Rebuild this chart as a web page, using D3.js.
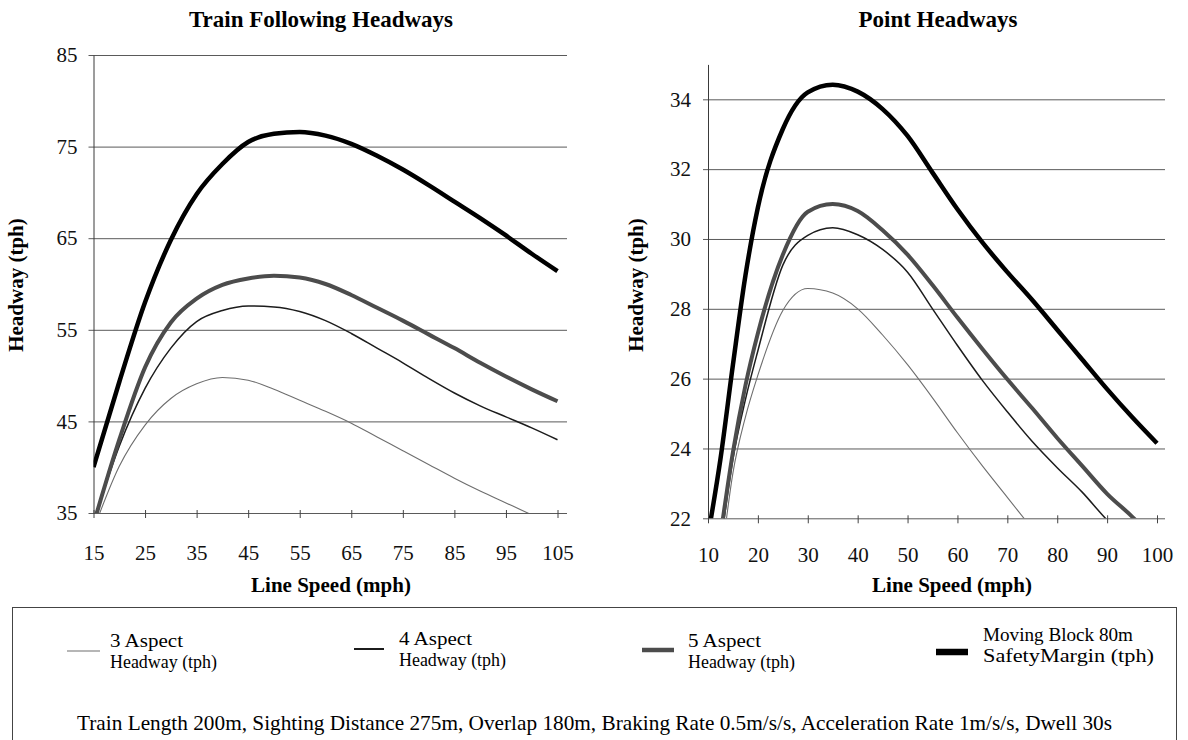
<!DOCTYPE html>
<html>
<head>
<meta charset="utf-8">
<script src="https://cdn.jsdelivr.net/npm/d3@7/dist/d3.min.js"></script>
<style>
body { margin: 0; background: #fff; }
svg, svg text { font-family: "Liberation Serif", "Times New Roman", serif; }
</style>
</head>
<body>
<script>
// --- Train Following Headways (left panel) ---
var tfSpeeds = [15, 20, 25, 30, 35, 40, 45, 50, 55, 60, 65, 70, 75, 80, 85, 90, 95, 100, 105];
var tf3Aspect = [33.2, 40.1, 44.6, 47.5, 49.1, 49.8, 49.5, 48.5, 47.3, 46.1, 44.8, 43.3, 41.8, 40.3, 38.8, 37.4, 36.1, 34.8, 33.5];
var tf4Aspect = [34.0, 42.3, 48.6, 53.0, 55.9, 57.1, 57.6, 57.5, 57.0, 56.0, 54.6, 53.0, 51.4, 49.7, 48.1, 46.7, 45.5, 44.3, 43.0];
var tf5Aspect = [33.8, 43.0, 50.9, 55.8, 58.4, 59.9, 60.6, 60.9, 60.7, 60.0, 58.8, 57.4, 56.0, 54.5, 53.0, 51.4, 49.9, 48.5, 47.2];
var tfMovingBlock = [40.0, 49.3, 58.0, 64.8, 69.8, 73.1, 75.5, 76.4, 76.6, 76.2, 75.3, 74.0, 72.5, 70.8, 69.0, 67.2, 65.3, 63.3, 61.4];
var tfTicksX = [15, 25, 35, 45, 55, 65, 75, 85, 95, 105];
var tfTicksY = [35, 45, 55, 65, 75, 85];

// --- Point Headways (right panel) ---
var phSpeeds = [10, 12.5, 15, 17.5, 20, 25, 30, 35, 40, 45, 50, 55, 60, 65, 70, 75, 80, 85, 90, 95, 100];
var ph3Aspect = [null, 20.6, 23.3, 24.9, 26.1, 27.95, 28.58, 28.45, 28.0, 27.25, 26.4, 25.45, 24.45, 23.5, 22.6, 21.7, null, null, null, null, null];
var ph4Aspect = [null, 21.2, 23.7, 25.4, 26.8, 29.25, 30.1, 30.32, 30.12, 29.7, 29.05, 28.0, 26.95, 25.95, 25.05, 24.2, 23.45, 22.75, 21.95, 21.3, null];
var ph5Aspect = [null, 21.5, 23.9, 25.8, 27.3, 29.55, 30.78, 31.0, 30.8, 30.25, 29.55, 28.68, 27.75, 26.85, 25.98, 25.15, 24.3, 23.5, 22.7, 22.05, 21.3];
var phMovingBlock = [21.5, 23.7, 26.4, 28.95, 30.9, 33.15, 34.2, 34.42, 34.22, 33.72, 32.95, 31.9, 30.85, 29.9, 29.05, 28.25, 27.4, 26.55, 25.7, 24.9, 24.15];
var phTicksX = [10, 20, 30, 40, 50, 60, 70, 80, 90, 100];
var phTicksY = [22, 24, 26, 28, 30, 32, 34];

var seriesLabels = [
	['3 Aspect', 'Headway (tph)'],
	['4 Aspect', 'Headway (tph)'],
	['5 Aspect', 'Headway (tph)'],
	['Moving Block 80m', 'SafetyMargin (tph)']
];
var footnote = 'Train Length 200m, Sighting Distance 275m, Overlap 180m, Braking Rate 0.5m/s/s, Acceleration Rate 1m/s/s, Dwell 30s';

// line look per series: 3, 4, 5 aspect, moving block
var lineStyles = [
	{ color: '#6e6e6e', width: 1.1 },
	{ color: '#1c1c1c', width: 1.5 },
	{ color: '#4c4c4c', width: 4 },
	{ color: '#000000', width: 4.5 }
];

var serif = '"Liberation Serif", "Times New Roman", serif';

var svg = d3.select('body').append('svg')
	.attr('width', 1188)
	.attr('height', 740);

function drawPanel(p) {
	var x = d3.scaleLinear().domain(p.xDomain).range(p.xRange);
	var y = d3.scaleLinear().domain(p.yDomain).range(p.yRange);
	var left = p.xRange[0], bottom = p.yRange[0], top = p.yRange[1];
	var g = svg.append('g');

	// horizontal gridlines (the lowest one doubles as x axis line)
	g.append('g')
		.attr('transform', 'translate(' + (left - 5) + ',0)')
		.call(d3.axisLeft(y).tickValues(p.yTicks).tickSize(-(p.plotRight - left + 5)).tickFormat(''))
		.call(function(s) { s.select('.domain').remove(); })
		.selectAll('line')
		.attr('stroke', '#5a5a5a')
		.attr('stroke-width', 1);

	// y axis with labels
	var ya = g.append('g')
		.attr('transform', 'translate(' + left + ',0)')
		.call(d3.axisLeft(y).tickValues(p.yTicks).tickSize(0).tickPadding(p.yLabelPad))
		.attr('font-family', null)
		.attr('font-size', null);
	ya.select('.domain').attr('stroke', '#3a3a3a');
	ya.selectAll('text')
		.style('font-family', serif)
		.style('font-size', '21px')
		.attr('fill', '#111');

	// x axis ticks + labels
	var xa = g.append('g')
		.attr('transform', 'translate(0,' + bottom + ')')
		.call(d3.axisBottom(x).tickValues(p.xTicks).tickSize(5).tickPadding(p.xLabelPad))
		.attr('font-family', null)
		.attr('font-size', null);
	xa.select('.domain').remove();
	xa.selectAll('line').attr('y1', -3).attr('stroke', '#444');
	xa.selectAll('text')
		.style('font-family', serif)
		.style('font-size', '21px')
		.attr('fill', '#111');

	// series
	var clipId = 'clip-' + p.id;
	svg.append('clipPath').attr('id', clipId)
		.append('rect')
		.attr('x', left)
		.attr('y', top)
		.attr('width', p.plotRight - left)
		.attr('height', bottom - top);

	var line = d3.line()
		.defined(function(d) { return d[1] != null; })
		.x(function(d) { return x(d[0]); })
		.y(function(d) { return y(d[1]); })
		.curve(d3.curveMonotoneX);

	p.series.forEach(function(vals, i) {
		var pts = p.speeds.map(function(s, k) { return [s, vals[k]]; });
		g.append('path')
			.datum(pts)
			.attr('clip-path', 'url(#' + clipId + ')')
			.attr('fill', 'none')
			.attr('stroke', lineStyles[i].color)
			.attr('stroke-width', lineStyles[i].width)
			.attr('stroke-linejoin', 'round')
			.attr('d', line);
	});

	// titles
	g.append('text')
		.attr('x', p.titleX).attr('y', 27)
		.attr('text-anchor', 'middle')
		.attr('font-weight', 'bold').attr('font-size', 23)
		.text(p.title);
	g.append('text')
		.attr('x', p.xTitleX).attr('y', 592)
		.attr('text-anchor', 'middle')
		.attr('font-weight', 'bold').attr('font-size', 21)
		.text('Line Speed (mph)');
	g.append('text')
		.attr('transform', 'translate(' + p.yTitleX + ',285) rotate(-90)')
		.attr('text-anchor', 'middle')
		.attr('font-weight', 'bold').attr('font-size', 21)
		.text('Headway (tph)');
}

drawPanel({
	id: 'tf',
	title: 'Train Following Headways',
	speeds: tfSpeeds,
	series: [tf3Aspect, tf4Aspect, tf5Aspect, tfMovingBlock],
	xDomain: [15, 105], xRange: [93.5, 557.5],
	yDomain: [35, 85], yRange: [513, 55],
	plotRight: 567,
	xTicks: tfTicksX, yTicks: tfTicksY,
	yLabelPad: 16, xLabelPad: 27,
	titleX: 321, xTitleX: 331, yTitleX: 23
});

drawPanel({
	id: 'ph',
	title: 'Point Headways',
	speeds: phSpeeds,
	series: [ph3Aspect, ph4Aspect, ph5Aspect, phMovingBlock],
	xDomain: [10, 100], xRange: [708, 1157],
	yDomain: [22, 35], yRange: [518.3, 64.4],
	plotRight: 1165,
	xTicks: phTicksX, yTicks: phTicksY,
	yLabelPad: 17, xLabelPad: 24,
	titleX: 938, xTitleX: 952, yTitleX: 643
});

// legend box
var legend = svg.append('g');
legend.append('rect')
	.attr('x', 12.5).attr('y', 607.5)
	.attr('width', 1164).attr('height', 150)
	.attr('fill', 'none')
	.attr('stroke', '#444')
	.attr('stroke-width', 1);

var legendPos = [
	{ sx: 67, sw: 33, sy: 651, tx: 110, ty: 647, w1: 73, w2: 107 },
	{ sx: 354, sw: 30, sy: 649, tx: 399, ty: 645, w1: 73, w2: 107 },
	{ sx: 642, sw: 32, sy: 650, tx: 688, ty: 647, w1: 73, w2: 107 },
	{ sx: 936, sw: 32, sy: 652, tx: 983, ty: 641, w1: 150, w2: 171 }
];
var legendWidths = [1.2, 2, 4.5, 6.5];

seriesLabels.forEach(function(lbl, i) {
	var lp = legendPos[i];
	legend.append('line')
		.attr('x1', lp.sx).attr('x2', lp.sx + lp.sw)
		.attr('y1', lp.sy).attr('y2', lp.sy)
		.attr('stroke', lineStyles[i].color)
		.attr('stroke-width', legendWidths[i]);
	legend.append('text')
		.attr('x', lp.tx).attr('y', lp.ty)
		.attr('font-size', 18)
		.attr('textLength', lp.w1).attr('lengthAdjust', 'spacingAndGlyphs')
		.text(lbl[0]);
	legend.append('text')
		.attr('x', lp.tx).attr('y', lp.ty + 21)
		.attr('font-size', 18)
		.attr('textLength', lp.w2).attr('lengthAdjust', 'spacingAndGlyphs')
		.text(lbl[1]);
});

legend.append('text')
	.attr('x', 77).attr('y', 730)
	.attr('font-size', 22)
	.attr('textLength', 1035).attr('lengthAdjust', 'spacingAndGlyphs')
	.text(footnote);
</script>
</body>
</html>
